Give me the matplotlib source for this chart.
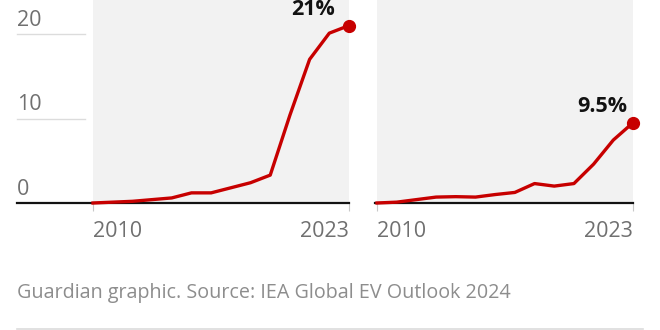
import numpy as np
import matplotlib
matplotlib.use("Agg")
import matplotlib.pyplot as plt
from matplotlib.lines import Line2D

# EV share of new car sales (%), 2010-2023
years = [2010, 2011, 2012, 2013, 2014, 2015, 2016, 2017, 2018, 2019, 2020, 2021, 2022, 2023]
europe = [0.0, 0.1, 0.2, 0.4, 0.6, 1.2, 1.2, 1.8, 2.4, 3.3, 10.4, 17.0, 20.1, 21.0]
us = [0.0, 0.1, 0.4, 0.7, 0.75, 0.7, 1.0, 1.25, 2.3, 2.0, 2.3, 4.6, 7.45, 9.5]
end_labels = ["21%", "9.5%"]
yticks = [0, 10, 20]
xticks = [2010, 2023]
source = "Guardian graphic. Source: IEA Global EV Outlook 2024"

RED = "#c70000"
PANEL = "#f2f2f2"
TICKTXT = "#707070"
FONT = "Open Sans"

W, H = 660, 330
fig = plt.figure(figsize=(6.6, 3.3), dpi=100)
fig.patch.set_facecolor("white")

# both panels share the same y scale
ytop = 203 / 8.45


def make_panel(x0px, series, label, label_off, show_y):
    ax = fig.add_axes([x0px / W, 127 / H, 256 / W, 203 / H])
    ax.set_facecolor(PANEL)
    ax.set_xlim(years[0], years[-1])
    ax.set_ylim(0, ytop)
    for s in ax.spines.values():
        s.set_visible(False)
    ax.set_yticks([])
    ax.set_xticks(xticks)
    ax.set_xticklabels([str(t) for t in xticks], fontsize=15.5, color=TICKTXT,
                       fontfamily=FONT)
    lbls = ax.get_xticklabels()
    lbls[0].set_ha("left")
    lbls[1].set_ha("right")
    ax.tick_params(axis="x", length=6, width=0.8, color="#c8c8c8", pad=7)

    # zero line runs out past the panel on the left
    x_left = (17 - x0px) / 256 if show_y else -2 / 256
    ax.axhline(0, xmin=x_left, xmax=1, color="#121212", lw=1.6, clip_on=False, zorder=2)

    if show_y:
        for v in yticks:
            if v > 0:
                ax.axhline(v, xmin=x_left, xmax=(85 - x0px) / 256, color="#dcdcdc",
                           lw=1, clip_on=False)
            ax.annotate(str(v), (x_left, v), xycoords=("axes fraction", "data"),
                        xytext=(0, 8), textcoords="offset pixels", ha="left",
                        va="baseline", fontsize=15.5, color=TICKTXT, fontfamily=FONT,
                        annotation_clip=False)

    ax.plot(years, series, color=RED, lw=2.4, solid_joinstyle="round",
            clip_on=False, zorder=3)
    ax.plot(years[-1], series[-1], "o", color=RED, ms=8.5, clip_on=False, zorder=4)
    ax.annotate(label, (years[-1], series[-1]), xytext=label_off,
                textcoords="offset pixels", ha="right", va="baseline",
                fontsize=15.5, fontweight="bold", color="#121212", fontfamily=FONT,
                annotation_clip=False)
    return ax


make_panel(93, europe, end_labels[0], (-14, 11), True)
make_panel(377, us, end_labels[1], (-6, 11), False)

fig.text(17 / W, 32 / H, source, fontsize=14.2, color="#8d8d8d", fontfamily=FONT,
         ha="left", va="baseline")
fig.add_artist(Line2D([17 / W, 643 / W], [1.5 / H, 1.5 / H], color="#dcdcdc", lw=1.2))

fig.savefig("out.png", dpi=100)
